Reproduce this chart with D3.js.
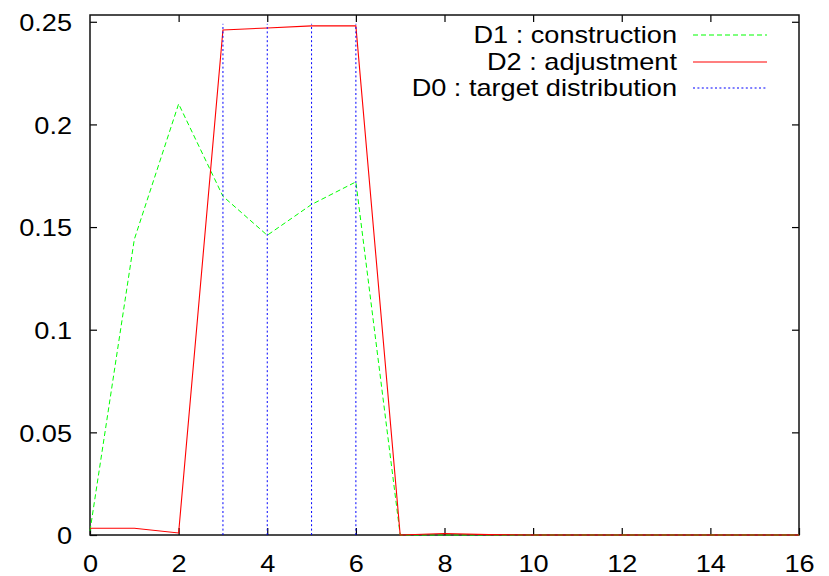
<!DOCTYPE html>
<html>
<head>
<meta charset="utf-8">
<script src="https://cdn.jsdelivr.net/npm/d3@7"></script>
<style>
  body { margin: 0; background: #fff; }
  text { font-family: "Liberation Sans", Arial, sans-serif; }
</style>
</head>
<body>
<div class="d3-chart-container"></div>
<script>
const X_VALUES = [0, 1, 2, 3, 4, 5, 6, 7, 8, 9, 10, 11, 12, 13, 14, 15, 16];
const D1_CONSTRUCTION = [0.002, 0.144, 0.21, 0.165, 0.146, 0.161, 0.172, 0, 0, 0, 0, 0, 0, 0, 0, 0, 0];
const D2_ADJUSTMENT = [0.0033, 0.0033, 0.001, 0.246, 0.247, 0.248, 0.248, 0, 0.0007, 0.0002, 0, 0, 0, 0, 0, 0, 0];
const D0_X = [3, 4, 5, 6];
const D0_TARGET = [0.249, 0.249, 0.249, 0.249];
const X_TICKS = [0, 2, 4, 6, 8, 10, 12, 14, 16];
const Y_TICKS = [0, 0.05, 0.1, 0.15, 0.2, 0.25];
const LEGEND_LABELS = ["D1 : construction", "D2 : adjustment", "D0 : target distribution"];

const STRETCH = 1.18;
const FONT_SIZE = 23;

function makeChart() {
  // plot box
  const margin = {top: 15, right: 30, bottom: 41, left: 90},
      width = 829 - margin.left - margin.right,
      height = 576 - margin.top - margin.bottom;

  const x = d3.scaleLinear().domain([0, 16]).range([0, width]);
  const y = d3.scaleLinear().domain([0, 0.2533]).range([height, 0]);

  const svg = d3.select(".d3-chart-container")
    .append("svg")
    .attr("width", 829)
    .attr("height", 576)
    .append("g")
    .attr("transform", "translate(" + margin.left + "," + margin.top + ")");

  // ticks point inwards on all four sides (gnuplot mirror)
  const xAxis = svg.append("g")
    .attr("transform", "translate(0," + height + ")")
    .call(d3.axisBottom(x).tickValues(X_TICKS).tickFormat(d3.format("d")).tickSizeInner(-7).tickSizeOuter(0).tickPadding(0));
  xAxis.selectAll("text")
    .attr("y", 37).attr("dy", null)
    .attr("transform", "scale(" + STRETCH + ",1)");

  const yAxis = svg.append("g")
    .call(d3.axisLeft(y).tickValues(Y_TICKS).tickFormat(d => d === 0 ? "0" : String(d)).tickSizeInner(-7).tickSizeOuter(0));
  yAxis.selectAll("text")
    .attr("x", -18 / STRETCH).attr("dy", "0.38em")
    .attr("transform", "scale(" + STRETCH + ",1)");

  svg.append("g")
    .call(d3.axisTop(x).tickValues(X_TICKS.slice(1, -1)).tickFormat("").tickSizeInner(-7).tickSizeOuter(0));
  svg.append("g")
    .attr("transform", "translate(" + width + ",0)")
    .call(d3.axisRight(y).tickValues(Y_TICKS.slice(1)).tickFormat("").tickSizeInner(-7).tickSizeOuter(0));

  svg.selectAll(".domain").remove();
  svg.selectAll(".tick line").attr("stroke", "#000").attr("stroke-width", 1.2);
  svg.selectAll(".tick text").attr("font-size", FONT_SIZE).attr("fill", "#000")
    .attr("font-family", "'Liberation Sans', Arial, sans-serif");

  svg.append("rect")
    .attr("width", width).attr("height", height)
    .attr("fill", "none").attr("stroke", "#111").attr("stroke-width", 1.5);

  const line = d3.line()
    .x(function(d) { return x(d[0]); })
    .y(function(d) { return y(d[1]); });

  const d1 = X_VALUES.map((v, i) => [v, D1_CONSTRUCTION[i]]);
  const d2 = X_VALUES.map((v, i) => [v, D2_ADJUSTMENT[i]]);

  svg.append("path")
    .datum(d1)
    .attr("d", line)
    .attr("fill", "none").attr("stroke", "#00ff00").attr("stroke-width", 1)
    .attr("stroke-dasharray", "5,3");

  svg.append("path")
    .datum(d2)
    .attr("d", line)
    .attr("fill", "none").attr("stroke", "#ff0000").attr("stroke-width", 1.1);

  // impulses
  svg.selectAll(".impulse")
    .data(D0_X.map((v, i) => [v, D0_TARGET[i]]))
    .enter()
    .append("line")
    .attr("class", "impulse")
    .attr("x1", d => x(d[0])).attr("x2", d => x(d[0]))
    .attr("y1", y(0)).attr("y2", d => y(d[1]))
    .attr("stroke", "#0000ff").attr("stroke-width", 1)
    .attr("stroke-dasharray", "2,2.4");

  // legend
  const legend = svg.append("g");
  const styles = [
    {color: "#00ff00", dash: "5,3"},
    {color: "#ff0000", dash: "none"},
    {color: "#0000ff", dash: "2,2.4"}
  ];
  LEGEND_LABELS.forEach((label, i) => {
    const ly = Math.round(20 + i * 26.5);
    legend.append("text")
      .attr("x", 587 / STRETCH).attr("y", ly)
      .attr("dy", "0.36em")
      .attr("text-anchor", "end")
      .attr("font-size", FONT_SIZE)
      .attr("fill", "#000")
      .attr("transform", "scale(" + STRETCH + ",1)")
      .text(label);
    legend.append("line")
      .attr("x1", 603).attr("x2", 677)
      .attr("y1", ly).attr("y2", ly)
      .style("stroke", styles[i].color).attr("stroke-width", 1.2)
      .attr("stroke-dasharray", styles[i].dash);
  });
}

makeChart();
</script>
</body>
</html>
